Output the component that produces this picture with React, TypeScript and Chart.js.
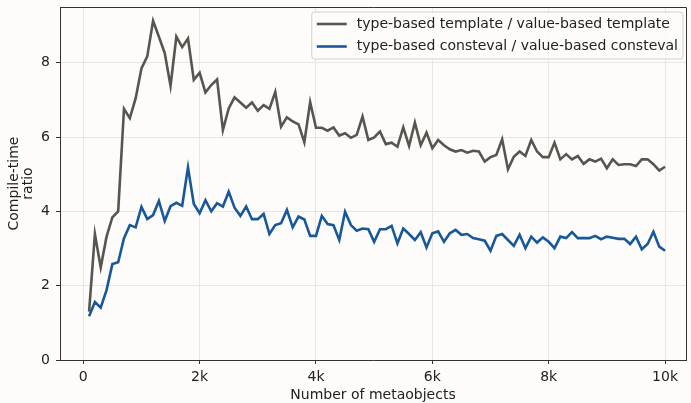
import { useEffect, useRef } from 'react';
import { Chart, registerables } from 'chart.js';

Chart.register(...registerables);

const metaobjects = [
  100, 200, 300, 400, 500, 600, 700, 800, 900, 1000,
  1100, 1200, 1300, 1400, 1500, 1600, 1700, 1800, 1900, 2000,
  2100, 2200, 2300, 2400, 2500, 2600, 2700, 2800, 2900, 3000,
  3100, 3200, 3300, 3400, 3500, 3600, 3700, 3800, 3900, 4000,
  4100, 4200, 4300, 4400, 4500, 4600, 4700, 4800, 4900, 5000,
  5100, 5200, 5300, 5400, 5500, 5600, 5700, 5800, 5900, 6000,
  6100, 6200, 6300, 6400, 6500, 6600, 6700, 6800, 6900, 7000,
  7100, 7200, 7300, 7400, 7500, 7600, 7700, 7800, 7900, 8000,
  8100, 8200, 8300, 8400, 8500, 8600, 8700, 8800, 8900, 9000,
  9100, 9200, 9300, 9400, 9500, 9600, 9700, 9800, 9900, 10000,
];

const templateRatio = [
  1.30, 3.39, 2.49, 3.32, 3.84, 4.00, 6.76, 6.51, 7.04, 7.85,
  8.17, 9.13, 8.70, 8.26, 7.38, 8.70, 8.42, 8.65, 7.54, 7.73,
  7.20, 7.40, 7.55, 6.19, 6.77, 7.07, 6.93, 6.79, 6.93, 6.71,
  6.86, 6.76, 7.21, 6.28, 6.53, 6.42, 6.34, 5.86, 6.94, 6.25,
  6.25, 6.17, 6.26, 6.04, 6.10, 5.98, 6.06, 6.55, 5.92, 5.99,
  6.15, 5.81, 5.85, 5.74, 6.26, 5.76, 6.39, 5.78, 6.12, 5.70,
  5.92, 5.78, 5.67, 5.61, 5.65, 5.58, 5.63, 5.61, 5.34, 5.46,
  5.52, 5.94, 5.13, 5.47, 5.61, 5.49, 5.92, 5.61, 5.46, 5.46,
  5.85, 5.40, 5.54, 5.40, 5.49, 5.28, 5.40, 5.34, 5.42, 5.16,
  5.40, 5.25, 5.27, 5.27, 5.22, 5.40, 5.40, 5.27, 5.10, 5.20,
];

const constevalRatio = [
  1.18, 1.56, 1.41, 1.88, 2.58, 2.63, 3.28, 3.63, 3.57, 4.12,
  3.79, 3.90, 4.28, 3.74, 4.14, 4.23, 4.15, 5.18, 4.20, 3.95,
  4.30, 4.00, 4.22, 4.13, 4.53, 4.10, 3.88, 4.13, 3.79, 3.79,
  3.93, 3.39, 3.63, 3.68, 4.04, 3.57, 3.86, 3.78, 3.34, 3.34,
  3.88, 3.66, 3.63, 3.23, 3.99, 3.63, 3.48, 3.54, 3.52, 3.18,
  3.52, 3.52, 3.61, 3.14, 3.54, 3.39, 3.23, 3.44, 3.03, 3.41,
  3.46, 3.18, 3.41, 3.50, 3.37, 3.39, 3.28, 3.25, 3.21, 2.94,
  3.34, 3.39, 3.23, 3.07, 3.37, 3.01, 3.32, 3.16, 3.30, 3.18,
  3.01, 3.32, 3.28, 3.44, 3.28, 3.28, 3.28, 3.34, 3.25, 3.32,
  3.29, 3.26, 3.26, 3.12, 3.32, 2.98, 3.12, 3.45, 3.05, 2.94,
];

const seriesLabels = [
  'type-based template / value-based template',
  'type-based consteval / value-based consteval',
];
const seriesColors = ['#56564f', '#18589a'];

const xTicks = [0, 2000, 4000, 6000, 8000, 10000];
const xTickLabels = ['0', '2k', '4k', '6k', '8k', '10k'];
const yTicks = [0, 2, 4, 6, 8];
const yTickLabels = ['0', '2', '4', '6', '8'];

const BG = '#fdfcfa';
const TEXT = '#222222';
const SPINE = '#333333';
const GRID = '#e8e6e3';
const FONT = "'DejaVu Sans', sans-serif";
const FS = 14;

const framePlugin = {
  id: 'frame',
  afterDatasetsDraw(chart: any) {
    const { ctx, chartArea } = chart;
    ctx.save();
    ctx.strokeStyle = SPINE;
    ctx.lineWidth = 1;
    ctx.beginPath();
    ctx.moveTo(chartArea.left, chartArea.top + 0.5);
    ctx.lineTo(chartArea.right + 0.5, chartArea.top + 0.5);
    ctx.lineTo(chartArea.right + 0.5, chartArea.bottom);
    ctx.stroke();
    ctx.restore();
  },
};

const legendPlugin = {
  id: 'boxLegend',
  afterDraw(chart: any) {
    const { ctx, chartArea } = chart;
    const datasets = chart.data.datasets;
    ctx.save();
    ctx.font = `${FS}px ${FONT}`;
    let maxW = 0;
    datasets.forEach((d: any) => {
      maxW = Math.max(maxW, ctx.measureText(d.label).width);
    });
    const padL = 5;
    const handle = 30;
    const gap = 10;
    const padR = 5;
    const rowH = 22.5;
    const w = padL + handle + gap + maxW + padR;
    const h = 47;
    const x0 = chartArea.right - 3 - w;
    const y0 = chartArea.top + 5;
    const r = 3;
    ctx.beginPath();
    ctx.moveTo(x0 + r, y0);
    ctx.lineTo(x0 + w - r, y0);
    ctx.quadraticCurveTo(x0 + w, y0, x0 + w, y0 + r);
    ctx.lineTo(x0 + w, y0 + h - r);
    ctx.quadraticCurveTo(x0 + w, y0 + h, x0 + w - r, y0 + h);
    ctx.lineTo(x0 + r, y0 + h);
    ctx.quadraticCurveTo(x0, y0 + h, x0, y0 + h - r);
    ctx.lineTo(x0, y0 + r);
    ctx.quadraticCurveTo(x0, y0, x0 + r, y0);
    ctx.closePath();
    ctx.fillStyle = 'rgba(253,252,250,0.85)';
    ctx.fill();
    ctx.strokeStyle = '#d0d0d0';
    ctx.lineWidth = 1;
    ctx.stroke();
    datasets.forEach((d: any, i: number) => {
      const cy = y0 + 12 + i * rowH;
      ctx.strokeStyle = d.borderColor;
      ctx.lineWidth = 2.6;
      ctx.beginPath();
      ctx.moveTo(x0 + padL, cy);
      ctx.lineTo(x0 + padL + handle, cy);
      ctx.stroke();
      ctx.fillStyle = TEXT;
      ctx.textAlign = 'left';
      ctx.textBaseline = 'middle';
      ctx.fillText(d.label, x0 + padL + handle + gap, cy);
    });
    ctx.restore();
  },
};

export default function App() {
  const canvasRef = useRef<HTMLCanvasElement | null>(null);

  useEffect(() => {
    document.body.style.margin = '0';
    document.body.style.background = BG;
    const canvas = canvasRef.current;
    if (!canvas) return;
    Chart.defaults.font.family = FONT;
    Chart.defaults.color = TEXT;

    const chart = new Chart(canvas, {
      type: 'line',
      data: {
        datasets: [
          {
            label: seriesLabels[0],
            data: metaobjects.map((x, i) => ({ x, y: templateRatio[i] })),
            borderColor: seriesColors[0],
            backgroundColor: seriesColors[0],
            borderWidth: 2.6,
            pointRadius: 0,
            tension: 0,
            fill: false,
          },
          {
            label: seriesLabels[1],
            data: metaobjects.map((x, i) => ({ x, y: constevalRatio[i] })),
            borderColor: seriesColors[1],
            backgroundColor: seriesColors[1],
            borderWidth: 2.6,
            pointRadius: 0,
            tension: 0,
            fill: false,
          },
        ],
      },
      options: {
        animation: false,
        responsive: false,
        maintainAspectRatio: false,
        layout: { padding: { top: 7, right: 5, left: 0, bottom: 0 } },
        plugins: {
          legend: { display: false },
          tooltip: { enabled: false },
        },
        scales: {
          x: {
            type: 'linear',
            min: -400,
            max: 10360,
            afterBuildTicks: (s: any) => {
              s.ticks = xTicks.map((v) => ({ value: v }));
            },
            afterFit: (s: any) => {
              s.height = 43;
              s.paddingLeft = 0;
              s.paddingRight = 0;
            },
            ticks: {
              callback: (_v: any, i: number) => xTickLabels[i],
              padding: 5,
              color: TEXT,
              font: { size: FS, family: FONT },
              maxRotation: 0,
              autoSkip: false,
            },
            grid: { color: GRID, tickColor: SPINE, tickLength: 4, lineWidth: 1 },
            border: { color: SPINE, width: 1 },
            title: {
              display: true,
              text: 'Number of metaobjects',
              color: TEXT,
              font: { size: FS, family: FONT, lineHeight: 1.1 },
              padding: { top: 0, bottom: 0 },
            },
          },
          y: {
            type: 'linear',
            min: 0,
            max: 9.5,
            afterBuildTicks: (s: any) => {
              s.ticks = yTicks.map((v) => ({ value: v }));
            },
            afterFit: (s: any) => {
              s.width = 60;
              s.paddingTop = 0;
              s.paddingBottom = 0;
            },
            ticks: {
              callback: (_v: any, i: number) => yTickLabels[i],
              padding: 6,
              color: TEXT,
              font: { size: FS, family: FONT },
            },
            grid: { color: GRID, tickColor: SPINE, tickLength: 4, lineWidth: 1 },
            border: { color: SPINE, width: 1 },
            title: {
              display: true,
              text: ['Compile-time', 'ratio'],
              color: TEXT,
              font: { size: FS, family: FONT, lineHeight: 1.0 },
              padding: { top: 7.5, bottom: 0 },
            },
          },
        },
      } as any,
      plugins: [framePlugin, legendPlugin],
    });

    return () => {
      chart.destroy();
    };
  }, []);

  return (
    <div
      style={{
        position: 'fixed',
        left: 0,
        top: 0,
        width: 691,
        height: 403,
        background: BG,
      }}
    >
      <canvas ref={canvasRef} width={691} height={403} style={{ display: 'block', width: 691, height: 403 }} />
    </div>
  );
}
